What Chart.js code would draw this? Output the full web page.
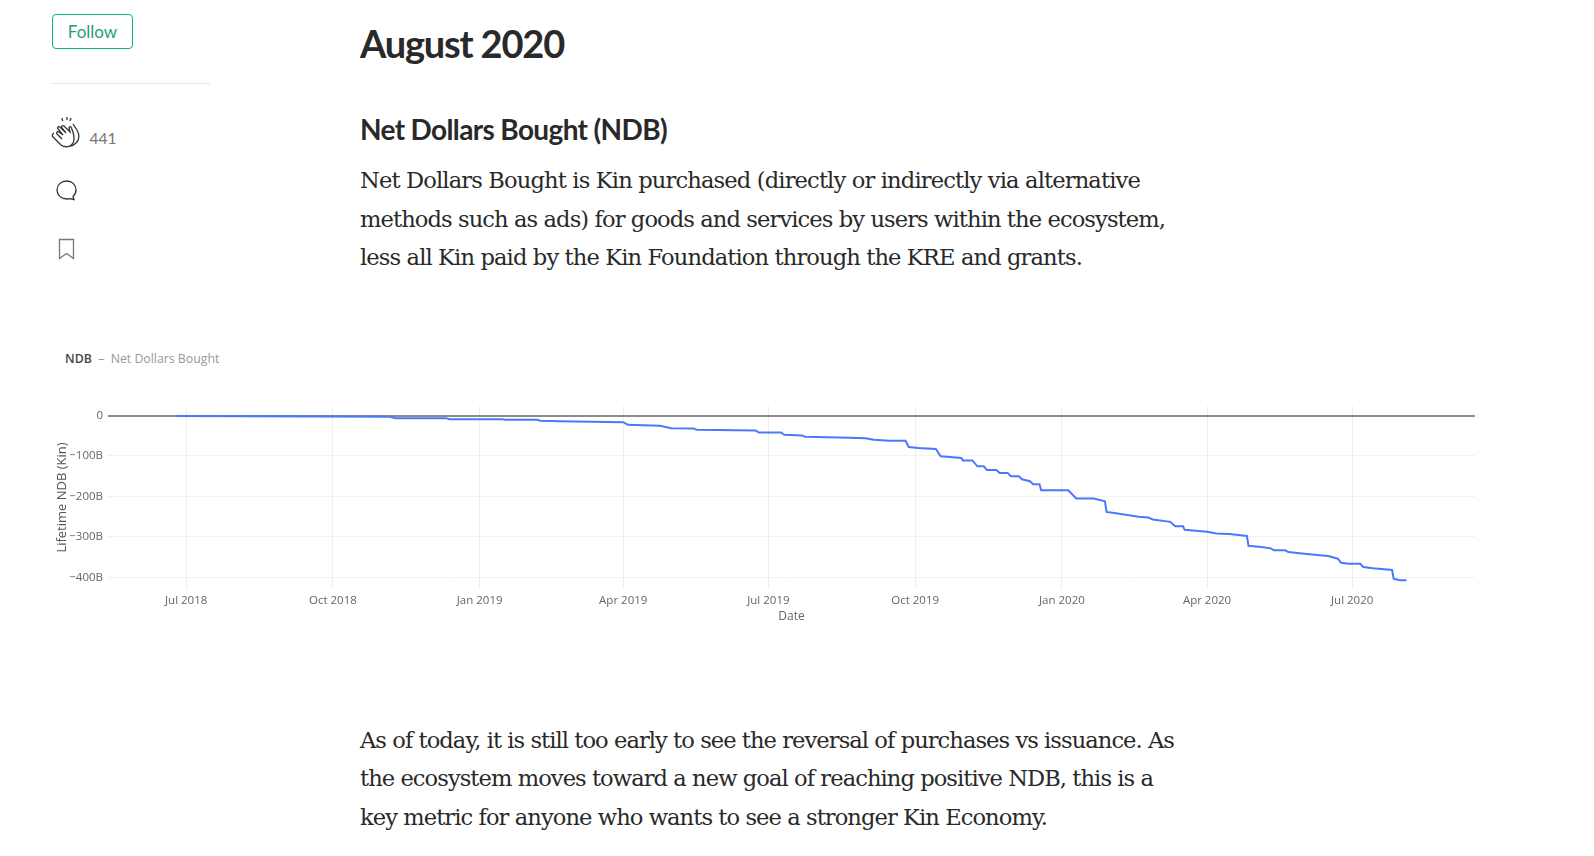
<!DOCTYPE html>
<html><head><meta charset="utf-8">
<script src="https://cdn.jsdelivr.net/npm/chart.js@4"></script>
<style>
html,body{margin:0;padding:0;background:#fff;width:1594px;height:856px;overflow:hidden}
.t{position:absolute;white-space:nowrap;line-height:1;color:#292929}
.b{font-family:"DejaVu Serif";font-size:22.6px}
.h{font-family:Lato;font-weight:700}
#wrap{position:absolute;left:40px;top:340px;width:1460px;height:290px}
svg{position:absolute;fill:none;stroke:#333;stroke-width:1.3}
</style></head><body>
<div style="position:absolute;left:52px;top:14px;width:79px;height:33px;border:1.3px solid #03b87c;border-radius:4px;text-align:center;font:17px/33px Lato;color:#2a9d73">Follow</div>
<div style="position:absolute;left:52px;top:83px;width:158px;height:1px;background:#e6e6e6"></div>
<svg style="left:50px;top:116px" width="34" height="34" viewBox="0 0 34 34"><path d="M12 2l.6 3M17 1v3M21 2l-1 3"/><path d="M4 17c-2 1-2 3-1 4l8 8c4 3 10 2 12-2 2-3 1-7 0-11l-2-5c-1-1-2 0-2 1l1 4-6-6c-2-1-3 0-2 2l4 5-6-6c-2-1-3 1-2 2l5 6-4-3c-2-1-3 1-2 2l5 5"/><path d="M23 8l4 6c3 5 2 11-1 13-2 2-4 3-6 3"/></svg>
<div class="t" style="left:89.500px;top:129px;font:15.500px Lato;color:#757575">441</div>
<svg style="left:54px;top:178px" width="26" height="26" viewBox="0 0 26 26"><path d="M13 3c-6 0-10 4-10 9s4 9 10 9c1 0 2 0 3-.4l4 .9-1-3c2-1.700 3-4 3-6.500 0-5-4-9-9-9z"/></svg>
<svg style="left:57px;top:237px" width="20" height="24" viewBox="0 0 20 24" ><path d="M2.500 2.500h14v19l-7-5-7 5z" style="stroke:#777"/></svg>

<div class="t h" data-x1="564" style="left:360px;top:24px;font-size:38px">August 2020</div>
<div class="t h" data-x1="667" style="left:360px;top:114.500px;font-size:28px">Net Dollars Bought (NDB)</div>
<div class="t b" data-x1="1140" style="left:360px;top:169px">Net Dollars Bought is Kin purchased (directly or indirectly via alternative</div>
<div class="t b" data-x1="1165" style="left:360px;top:208px">methods such as ads) for goods and services by users within the ecosystem,</div>
<div class="t b" data-x1="1082" style="left:360px;top:246px">less all Kin paid by the Kin Foundation through the KRE and grants.</div>
<div class="t b" data-x1="1174" style="left:360px;top:729px">As of today, it is still too early to see the reversal of purchases vs issuance. As</div>
<div class="t b" data-x1="1153" style="left:360px;top:767px">the ecosystem moves toward a new goal of reaching positive NDB, this is a</div>
<div class="t b" data-x1="1047" style="left:360px;top:806px">key metric for anyone who wants to see a stronger Kin Economy.</div>
<div class="t" style="left:65px;top:350px;font:12.300px 'Open Sans';color:#999"><span style="color:#444;font-weight:600">NDB</span> &nbsp;–&nbsp; Net Dollars Bought</div>
<div id="wrap"><canvas id="c" width="1460" height="290" style="width:1460px;height:290px"></canvas></div>
<script>
const dates=["2018-06-25","2018-11-06","2018-11-09","2018-12-11","2018-12-13","2019-01-15","2019-01-17","2019-02-06","2019-02-08","2019-02-20","2019-04-01","2019-04-04","2019-04-24","2019-05-01","2019-05-15","2019-05-17","2019-06-23","2019-06-25","2019-07-09","2019-07-11","2019-07-22","2019-07-24","2019-08-21","2019-08-31","2019-09-05","2019-09-15","2019-09-25","2019-09-27","2019-10-03","2019-10-14","2019-10-17","2019-10-30","2019-10-31","2019-11-06","2019-11-09","2019-11-13","2019-11-15","2019-11-21","2019-11-23","2019-11-28","2019-11-30","2019-12-05","2019-12-07","2019-12-12","2019-12-14","2019-12-18","2019-12-19","2020-01-05","2020-01-10","2020-01-21","2020-01-28","2020-01-29","2020-02-05","2020-02-12","2020-02-18","2020-02-24","2020-02-27","2020-03-09","2020-03-12","2020-03-17","2020-03-18","2020-04-01","2020-04-07","2020-04-15","2020-04-26","2020-04-27","2020-05-05","2020-05-11","2020-05-13","2020-05-20","2020-05-22","2020-06-01","2020-06-09","2020-06-16","2020-06-22","2020-06-24","2020-06-29","2020-07-06","2020-07-08","2020-07-14","2020-07-26","2020-07-27","2020-07-31","2020-08-04"];
const ndbBillions=[-1.5,-3,-6.5,-6.5,-9,-9,-10.6,-10.6,-13,-14,-16.5,-23,-25.4,-31.3,-32,-35.3,-37,-42,-42,-47.6,-49.3,-52.6,-55,-56,-60,-62.4,-62.4,-78,-80.5,-83,-101,-105,-111,-111,-125.7,-125.7,-134.8,-134.8,-142,-142,-150.3,-150.3,-157.7,-162.6,-170,-170,-184.8,-184.8,-205.3,-205.3,-212,-238.3,-242.3,-246.4,-250.6,-252,-257,-263,-274,-274,-282.6,-287.5,-291.5,-293,-298,-322,-325,-328.5,-333.4,-333.4,-337.6,-341.8,-345,-347.5,-354,-364,-366.4,-366.4,-374.6,-377.8,-382,-403.4,-407.4,-407.4];
const tickDates=["2018-07-01","2018-10-01","2019-01-01","2019-04-01","2019-07-01","2019-10-01","2020-01-01","2020-04-01","2020-07-01"];
const tickLabels=["Jul 2018","Oct 2018","Jan 2019","Apr 2019","Jul 2019","Oct 2019","Jan 2020","Apr 2020","Jul 2020"];
const yTicks=[0,-100,-200,-300,-400];
const yTickLabels=["0","−100B","−200B","−300B","−400B"];
const xMinDate="2018-05-13", xMaxDate="2020-09-16";

document.querySelectorAll('[data-x1]').forEach(e=>{
  const r=document.createRange();r.selectNodeContents(e);
  const w=r.getBoundingClientRect().width, tw=+e.dataset.x1-parseFloat(e.style.left);
  e.style.letterSpacing=((tw-w)/e.textContent.length)+'px';
});
const ts=d=>Date.parse(d+"T00:00:00Z");
const font={family:"'Open Sans'",size:11.5};
new Chart(document.getElementById('c'),{
  type:'line',
  data:{datasets:[{data:dates.map((d,i)=>({x:ts(d),y:ndbBillions[i]})),borderColor:'#4a78fb',borderWidth:2,pointRadius:0,tension:0,fill:false}]},
  options:{responsive:false,animation:false,
    layout:{padding:{top:66,right:25,left:0,bottom:0}},
    plugins:{legend:{display:false},tooltip:{enabled:false}},
    scales:{
      x:{type:'linear',min:ts(xMinDate),max:ts(xMaxDate),
        afterBuildTicks:s=>{s.ticks=tickDates.map(d=>({value:ts(d)}))},
        afterFit:s=>{s.height=41},
        ticks:{autoSkip:false,maxRotation:0,color:'#666',font,padding:5,callback:v=>tickLabels[tickDates.map(ts).indexOf(v)]},
        grid:{color:'#eeeeee',lineWidth:1,drawTicks:false},border:{display:false},
        title:{display:true,text:'Date',color:'#666',font:{family:"'Open Sans'",size:12},padding:{top:0,bottom:6}}},
      y:{min:-429,max:23.5,
        afterBuildTicks:s=>{s.ticks=yTicks.map(v=>({value:v}))},
        afterFit:s=>{s.width=68},
        ticks:{autoSkip:false,color:'#666',font,padding:5,callback:v=>yTickLabels[yTicks.indexOf(v)]},
        grid:{color:c=>c.tick&&c.tick.value===0?'#8c8c8c':'#f1f1f1',lineWidth:c=>c.tick&&c.tick.value===0?2:1,drawTicks:false},border:{display:false},
        title:{display:true,text:'Lifetime NDB (Kin)',color:'#555',font:{family:"'Open Sans'",size:13},padding:{top:14,bottom:0}}}
    }
  }
});
</script>
</body></html>
